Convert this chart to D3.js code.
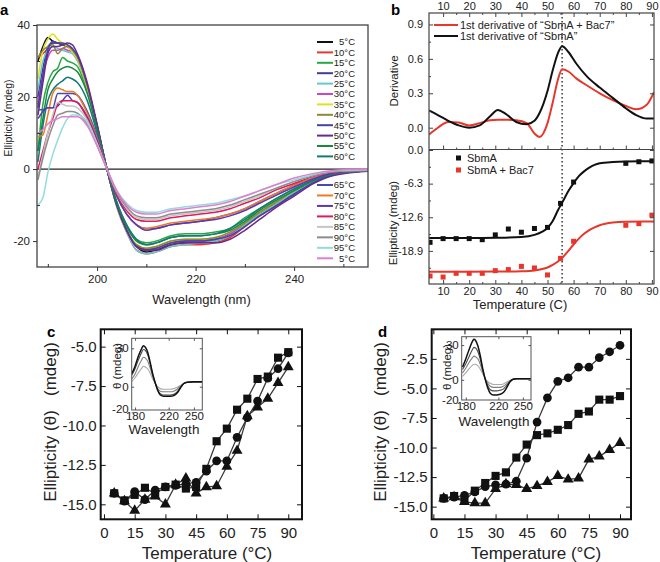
<!DOCTYPE html>
<html><head><meta charset="utf-8">
<script src="https://cdn.jsdelivr.net/npm/d3@7"></script>
<style>body{margin:0;background:#fff}svg{display:block}</style>
</head><body><svg id="fig" width="660" height="562"></svg>
<script>
// ================= DATA =================
// Panel a: CD spectra (mdeg) at these wavelengths (nm)
const wlA = [188,189,190,191,192,193,194,195,196,198,200,202,204,206,208,210,212,215,218,221,224,227,230,233,236,240,244,248,255];
const legendA = ["5°C","10°C","15°C","20°C","25°C","30°C","35°C","40°C","45°C","50°C","55°C","60°C","65°C","70°C","75°C","80°C","85°C","90°C","95°C","5°C"];
const cd05 = [30,34,36.5,35.5,35,34.5,34,33,31,23,12,0,-10,-17,-21.5,-23,-22.5,-21,-20.5,-20.5,-20,-18.5,-15.5,-12.5,-10,-6.5,-3.5,-1.5,-0.5];
const cd10 = [31,32,33.5,35,35,34.5,34,33,31,23,12,0,-10.5,-17.5,-22.5,-23.5,-23,-21.5,-21,-21,-20.5,-19,-16,-13,-10.5,-7,-3.7,-1.6,-0.5];
const cd15 = [5,18,24,27,28,31,30,29.5,28.5,21.5,11.5,0,-9.5,-15.5,-19.5,-20.5,-20,-18.5,-18,-18,-17.5,-16.5,-13.5,-11,-8.5,-5.5,-3,-1.3,-0.4];
const cd20 = [20,28,34,35,35,34.5,34,33,31,23,12,0,-10,-17,-21.5,-22.5,-22,-20.5,-20,-20,-19.5,-18,-15.5,-12.5,-10,-6.5,-3.5,-1.5,-0.5];
const cd25 = [22,30,33,34,33.5,33,32.5,32,30,22.5,11.5,0,-10.5,-17.5,-22.5,-23.5,-23,-21.5,-21,-20.5,-20,-18.5,-15.5,-12.5,-10,-6.5,-3.5,-1.5,-0.5];
const cd30 = [18,26,31,33,33,33.5,33,32.5,30.5,22.5,11.5,0,-10,-17,-21.5,-22.5,-22,-20.5,-20,-20,-19.5,-18,-15,-12,-9.5,-6,-3.2,-1.4,-0.4];
const cd35 = [25,33,36,37.5,36,35,34,32.5,30.5,22.5,12,0,-10,-17,-21,-22,-21.5,-20,-19.5,-19.5,-19,-17.5,-15,-12,-9.5,-6,-3,-1.2,-0.3];
const cd40 = [31,33,34,34.5,32,33.5,34,33,31,23,12,0,-10,-17,-21,-22,-21.5,-20,-19.5,-19.5,-19,-17.5,-15,-12,-9.5,-6,-3.2,-1.4,-0.4];
const cd45 = [17,26,33,35.5,35,35,34.5,33.5,31.5,23.5,12,0,-10,-17,-21.5,-22.5,-22,-20.5,-20,-20,-19.5,-18.5,-16,-13,-10.5,-7,-3.7,-1.6,-0.5];
const cd50 = [15,24,32,34,34,34.5,35,34.5,32,24,12.5,0,-10,-17,-21.5,-22.5,-22.5,-21,-20.5,-20.5,-20.5,-19.5,-17,-14,-11,-7.5,-4,-1.8,-0.6];
const cd55 = [5,14,22,25,27,28,28.5,28,27,21,11,0,-9.5,-16,-20,-21,-20.5,-19,-18.5,-18.5,-18,-17,-14.5,-11.5,-9,-6,-3.2,-1.4,-0.4];
const cd60 = [2,12,19,22,23.5,24.5,25.5,25,24,19,10,0,-9,-15.5,-19.5,-21,-20.5,-19,-18.5,-18.5,-18,-16.5,-14,-11,-8.5,-5.5,-3,-1.3,-0.4];
const cd65 = [16.5,16.5,17,17,21,21,21,21,20.5,16,9,0,-7.5,-12.5,-15.5,-16.5,-16.5,-15.5,-15,-14.5,-13.5,-12.5,-11,-9,-7,-4.5,-2.5,-1,-0.4];
const cd70 = [9,9.5,15,21,22.5,22,21.5,21.5,20.5,15.5,8.5,0,-7.5,-12.5,-15.5,-16.5,-16,-15,-14.5,-14,-13.5,-12.5,-11,-9,-7,-4.5,-2.5,-1,-0.4];
const cd75 = [14,16,17,17,17.5,19,20.5,19,18.5,14.5,8,0,-7.5,-12.5,-15.5,-17,-16.5,-15.5,-15,-14.5,-14,-13,-11.5,-9.5,-7.5,-5,-2.7,-1.1,-0.4];
const cd80 = [0,5,10,14,18,19,19,19,18.5,14,7.5,0,-7,-11.5,-14,-14.5,-14.5,-13.5,-13,-12.5,-12,-11,-9.5,-8,-6,-4,-2,-0.8,-0.3];
const cd85 = [-2,4,10,15,18.5,18,17.5,17.5,17,13.5,7,0,-6.5,-11,-13.5,-14,-14,-13,-12.5,-12,-11.5,-10.5,-9,-7.5,-5.5,-3.5,-1.8,-0.7,-0.3];
const cd90 = [-3,3,8,12,15,15.5,16,16,15.5,12.5,6.5,0,-6.5,-10.5,-13,-13.5,-13.5,-12.5,-12,-11.5,-11,-10,-8.5,-7,-5.5,-3.5,-1.8,-0.7,-0.3];
const cd95 = [-10,-8,-1,4,8,11.5,14,15,15,13,7,0,-6,-9.5,-11.5,-12,-12,-11,-10.5,-10,-9.5,-8.5,-7.5,-6,-4.5,-3,-1.5,-0.5,-0.2];
const cd05r = [10,11,12.5,13.5,14,14.5,14.5,14.5,14.5,12,6.5,0,-6,-10,-12,-12.5,-12.5,-11.5,-11,-10.5,-10,-9,-7.5,-6,-4.5,-2.5,-1.2,-0.4,0];
const seriesA = [cd05,cd10,cd15,cd20,cd25,cd30,cd35,cd40,cd45,cd50,cd55,cd60,cd65,cd70,cd75,cd80,cd85,cd90,cd95,cd05r];

// Panel b: derivatives and melting data
const tDeriv = [4.6,8,12,16,20,24,28,31,34,38,42,45,47,50,52,54,55.6,58,61,65,70,75,80,84,88,90.8];
const derivSbmA = [0.15,0.11,0.06,0.02,0.0,0.02,0.1,0.155,0.12,0.05,0.03,0.06,0.13,0.32,0.5,0.65,0.71,0.66,0.56,0.45,0.35,0.26,0.17,0.11,0.08,0.08];
const derivBac7 = [-0.06,0.0,0.05,0.045,0.02,0.04,0.065,0.07,0.07,0.065,0.04,-0.05,-0.08,0.04,0.22,0.42,0.51,0.49,0.43,0.37,0.3,0.24,0.19,0.16,0.2,0.31];
const tPts = [5,10,15,20,25,30,35,40,45,50,55,60,80,85,90];
const ptsSbmA = [-17.3,-16.6,-16.6,-16.6,-16.8,-15.9,-14.8,-15.4,-14.7,-14.5,-10.0,-6.0,-2.5,-2.2,-2.05];
const ptsBac7 = [-23.6,-23.8,-23.1,-23.1,-23.1,-22.6,-22.4,-21.8,-22.1,-23.4,-20.3,-17.1,-14.1,-13.8,-12.2];
const tFit = [4.6,10,20,30,40,45,48,50,52,54,56,58,60,62,64,66,68,70,75,80,90.8];
const fitSbmA = [-16.5,-16.5,-16.5,-16.45,-16.3,-15.9,-15.3,-14.6,-13.3,-11.3,-9.5,-7.7,-6.2,-4.9,-4.0,-3.3,-2.8,-2.5,-2.25,-2.15,-2.1];
const fitBac7 = [-22.8,-22.8,-22.8,-22.78,-22.7,-22.55,-22.3,-22.0,-21.5,-20.9,-20.0,-18.9,-17.7,-16.6,-15.7,-15.0,-14.5,-14.1,-13.6,-13.45,-13.4];
const tMid = 55.6;
const legendBTop = ["1st derivative of \u201cSbmA + Bac7\u201d", "1st derivative of \u201cSbmA\u201d"];
const legendBBot = ["SbmA", "SbmA + Bac7"];
const ticksBTopY = [0, 0.3, 0.6, 0.9];
const ticksBBotY = [0, -6.3, -12.6, -18.9];
const labelsBBotY = ["0.0", "-6.3", "-12.6", "-18.9"];
const ticksBX = [10,20,30,40,50,60,70,80,90];

// Panels c, d: melting curves
const tempCD = [5,10,15,20,25,30,35,40,45,50,55,60,65,70,75,80,85,90];
const cSquares = [-14.3,-14.75,-14.4,-13.95,-14.35,-13.9,-13.75,-14.0,-13.9,-12.75,-11.0,-10.2,-9.0,-8.3,-7.05,-6.9,-5.7,-5.35];
const cCircles = [-14.3,-14.8,-14.2,-14.7,-14.1,-13.9,-13.8,-13.7,-13.6,-12.9,-12.25,-12.25,-10.75,-9.5,-8.45,-7.0,-6.4,-5.4];
const cTriangles = [-14.3,-14.8,-15.4,-14.7,-14.5,-15.0,-13.75,-13.35,-14.3,-13.9,-13.85,-12.6,-11.6,-9.4,-8.85,-8.3,-7.3,-6.3];
const dSquares = [-14.3,-14.1,-14.5,-13.65,-13.0,-12.4,-12.1,-10.85,-9.75,-8.95,-8.8,-8.5,-8.1,-7.15,-6.95,-5.95,-5.95,-5.65];
const dCircles = [-14.3,-14.2,-14.05,-13.75,-13.3,-13.15,-13.1,-12.85,-10.9,-7.85,-5.8,-4.4,-4.1,-3.2,-3.2,-2.4,-1.9,-1.35];
const dTriangles = [-14.3,-14.2,-14.6,-14.7,-14.7,-13.5,-13.1,-13.15,-13.5,-13.25,-12.9,-12.4,-12.7,-12.6,-11.0,-10.75,-10.2,-9.6];
const ticksCDX = [0,15,30,45,60,75,90];
const ticksCY = [-15,-12.5,-10,-7.5,-5];
const ticksDY = [-15,-12.5,-10,-7.5,-5,-2.5];

// Insets: CD spectra
const wlIn = [176,180,184,188,190,192,195,198,201,204,207,210,214,218,222,226,230,234,238,242,250,260];
const inC1 = [10,16,24,30,32,31,27,19,10,3,-3,-6.5,-7.5,-7.5,-7.5,-7,-5,-1,2.5,3.5,3.8,3.8];
const inC2 = [9,14,21,27,29,28.5,25,18,9.5,3,-2.5,-5.5,-6.5,-6.5,-6.5,-6,-4,-0.5,2.5,3.5,3.8,3.8];
const inC3 = [6,10,16,21,23,22.5,20,14.5,8,2.5,-1.5,-3.5,-4,-4,-4,-3.5,-2,0.5,2.5,3.5,3.8,3.8];
const inC4 = [4,7,11,14.5,16,15.5,14,10.5,6,2.5,0,-1.5,-2,-2,-2,-1.5,-0.5,1,2.5,3.5,3.8,3.8];
const inD1 = [11,18,26,33,35,34,29,20,9,0,-7,-11.5,-13,-13,-12.5,-11,-7,-2,0.5,1,1,1];
const inD2 = [9,14,20,26,28,27.5,24,17,8,0.5,-5,-8.5,-9.5,-9.5,-9,-8,-5,-1.5,0.5,1,1,1];
const inD3 = [6,10,15,19,20.5,20,18,13,6.5,1,-3,-5.5,-6.5,-6.5,-6.5,-5.5,-3.5,-1,0.5,1,1,1];
const inD4 = [3,6,9.5,12.5,13.5,13.5,12,9,5,1,-1.5,-3,-4,-4,-4,-3.5,-2,-0.5,0.5,1,1,1];
const ticksInX = [180,220,250];
const ticksInY = [-20,0,30];

// ================= STYLE =================
const FONT = '"Liberation Sans", Arial, Helvetica, sans-serif';
const colorsA = ["#111111","#e8372e","#27a844","#3d3d9e","#66c9c9","#cc44c8","#e0e020","#8a8a38","#4444a4","#6a2a8c","#168a3c","#147a78",
                 "#4a4aac","#f07a22","#5a38b8","#e01860","#c4c4c4","#8c8c8c","#94dcdc","#e07ed0"];
const RED = "#e8362c";
const svg = d3.select("#fig").attr("font-family", FONT);
const fmtB = v => d3.format(".1f")(v).replace("\u2212", "-");

function styleAxis(g, fs, color) {
  g.attr("font-family", FONT).attr("font-size", fs);
  g.select(".domain").remove();
  g.selectAll("line").attr("stroke", color || "#333");
  g.selectAll("text").attr("fill", "#222");
  return g;
}
function minorAxis(parent, axisFn, scale, vals, size, transform, color) {
  const g = parent.append("g").attr("transform", transform)
    .call(axisFn(scale).tickValues(vals).tickSize(size).tickFormat(""));
  styleAxis(g, 10, color);
  return g;
}

// ================= PANEL A =================
(function () {
  const L = 37, R = 368, T = 25, B = 267;
  const x = d3.scaleLinear().domain([187.8, 255]).range([L, R]);
  const y = d3.scaleLinear().domain([-27.2, 40]).range([B, T]);
  const g = svg.append("g");
  g.append("clipPath").attr("id", "clipA").append("rect").attr("x", L).attr("y", T).attr("width", R - L).attr("height", B - T);
  g.append("line").attr("x1", L).attr("x2", R).attr("y1", y(0)).attr("y2", y(0)).attr("stroke", "#222").attr("stroke-width", 1.2);
  const line = d3.line().x((d, i) => x(wlA[i])).y(d => y(d)).curve(d3.curveMonotoneX);
  seriesA.forEach((s, k) => {
    g.append("path").attr("d", line(s)).attr("fill", "none").attr("stroke", colorsA[k])
      .attr("stroke-width", 1.5).attr("clip-path", "url(#clipA)");
  });
  g.append("rect").attr("x", L).attr("y", T).attr("width", R - L).attr("height", B - T)
    .attr("fill", "none").attr("stroke", "#444").attr("stroke-width", 1.3);
  styleAxis(g.append("g").attr("transform", `translate(0,${B})`)
    .call(d3.axisBottom(x).tickValues([200, 220, 240]).tickSize(4).tickPadding(4).tickFormat(d3.format("d"))), 11.5);
  minorAxis(g, d3.axisBottom, x, [190, 210, 230, 250], -3, `translate(0,${B})`);
  styleAxis(g.append("g").attr("transform", `translate(${L},0)`)
    .call(d3.axisLeft(y).tickValues([-20, 0, 20, 40]).tickSize(4).tickPadding(3).tickFormat(v => String(v))), 11.5);
  minorAxis(g, d3.axisLeft, y, [-10, 10, 30], -3, `translate(${L},0)`);
  legendA.forEach((lab, i) => {
    const ly = i < 12 ? 42 + i * 10.4 : 185 + (i - 12) * 10.47;
    g.append("line").attr("x1", 317).attr("x2", 333).attr("y1", ly).attr("y2", ly).attr("stroke", colorsA[i]).attr("stroke-width", 2);
    g.append("text").attr("x", 355).attr("y", ly).attr("dy", "0.35em").attr("text-anchor", "end")
      .attr("font-size", 9.5).attr("fill", "#222").text(lab);
  });
  g.append("text").attr("x", (L + R) / 2 - 1).attr("y", 304).attr("text-anchor", "middle").attr("font-size", 13).attr("fill", "#222").text("Wavelength (nm)");
  g.append("text").attr("transform", "translate(12,118) rotate(-90)").attr("text-anchor", "middle").attr("font-size", 10.5).attr("fill", "#222").text("Ellipticity (mdeg)");
  g.append("text").attr("x", 0).attr("y", 15).attr("font-size", 15).attr("font-weight", "bold").text("a");
})();

// ================= PANEL B =================
let bLabels = null;
(function () {
  const L = 429, R = 654, T = 13, M = 149.5, B = 284;
  const x = d3.scaleLinear().domain([4.6, 90.8]).range([L, R]);
  const yT = d3.scaleLinear().domain([-0.19, 1.0]).range([M, T]);
  const yB = d3.scaleLinear().domain([-25.1, 0]).range([B, M + 0.5]);
  const g = svg.append("g");
  g.append("clipPath").attr("id", "clipBT").append("rect").attr("x", L).attr("y", T).attr("width", R - L).attr("height", M - T);
  g.append("clipPath").attr("id", "clipBB").append("rect").attr("x", L).attr("y", M).attr("width", R - L).attr("height", B - M);
  g.append("line").attr("x1", x(tMid)).attr("x2", x(tMid)).attr("y1", T).attr("y2", B)
    .attr("stroke", "#444").attr("stroke-width", 1.6).attr("stroke-dasharray", "1.6,2.4");
  const lineT = d3.line().x((d, i) => x(tDeriv[i])).y(d => yT(d)).curve(d3.curveMonotoneX);
  g.append("path").attr("d", lineT(derivBac7)).attr("fill", "none").attr("stroke", RED).attr("stroke-width", 2).attr("clip-path", "url(#clipBT)");
  g.append("path").attr("d", lineT(derivSbmA)).attr("fill", "none").attr("stroke", "#111").attr("stroke-width", 2).attr("clip-path", "url(#clipBT)");
  const lineB = d3.line().x((d, i) => x(tFit[i])).y(d => yB(d)).curve(d3.curveMonotoneX);
  g.append("path").attr("d", lineB(fitSbmA)).attr("fill", "none").attr("stroke", "#111").attr("stroke-width", 2).attr("clip-path", "url(#clipBB)");
  g.append("path").attr("d", lineB(fitBac7)).attr("fill", "none").attr("stroke", RED).attr("stroke-width", 2).attr("clip-path", "url(#clipBB)");
  const sq = 5;
  g.append("g").selectAll("rect").data(ptsSbmA).join("rect").attr("x", (d, i) => x(tPts[i]) - sq / 2).attr("y", d => yB(d) - sq / 2)
    .attr("width", sq).attr("height", sq).attr("fill", "#111").attr("clip-path", "url(#clipBB)");
  g.append("g").selectAll("rect").data(ptsBac7).join("rect").attr("x", (d, i) => x(tPts[i]) - sq / 2).attr("y", d => yB(d) - sq / 2)
    .attr("width", sq).attr("height", sq).attr("fill", RED).attr("clip-path", "url(#clipBB)");
  g.append("rect").attr("x", L).attr("y", T).attr("width", R - L).attr("height", B - T).attr("fill", "none").attr("stroke", "#444").attr("stroke-width", 1.2);
  g.append("line").attr("x1", L).attr("x2", R).attr("y1", M).attr("y2", M).attr("stroke", "#444").attr("stroke-width", 1.2);
  const fs = 11;
  styleAxis(g.append("g").attr("transform", `translate(0,${T})`).call(d3.axisTop(x).tickValues(ticksBX).tickSize(-4).tickPadding(3).tickFormat(d3.format("d"))), fs, "#444");
  minorAxis(g, d3.axisTop, x, [15,25,35,45,55,65,75,85], -2, `translate(0,${T})`, "#444");
  styleAxis(g.append("g").attr("transform", `translate(0,${B})`).call(d3.axisBottom(x).tickValues(ticksBX).tickSize(-4).tickPadding(3).tickFormat(d3.format("d"))), fs, "#444");
  minorAxis(g, d3.axisBottom, x, [15,25,35,45,55,65,75,85], -2, `translate(0,${B})`, "#444");
  minorAxis(g, d3.axisBottom, x, ticksBX, -4, `translate(0,${M})`, "#444");
  minorAxis(g, d3.axisBottom, x, [15,25,35,45,55,65,75,85], -2, `translate(0,${M})`, "#444");
  minorAxis(g, d3.axisLeft, yT, ticksBTopY, -4, `translate(${L},0)`, "#444");
  minorAxis(g, d3.axisLeft, yT, [0.15, 0.45, 0.75], -2, `translate(${L},0)`, "#444");
  minorAxis(g, d3.axisRight, yT, ticksBTopY, -4, `translate(${R},0)`, "#444");
  minorAxis(g, d3.axisLeft, yB, ticksBBotY, -4, `translate(${L},0)`, "#444");
  minorAxis(g, d3.axisLeft, yB, [-3.15, -9.45, -15.75, -22.05], -2, `translate(${L},0)`, "#444");
  minorAxis(g, d3.axisRight, yB, ticksBBotY, -4, `translate(${R},0)`, "#444");
  [RED, "#111"].forEach((c, i) => {
    const ly = 25 + i * 11;
    g.append("line").attr("x1", 434).attr("x2", 458).attr("y1", ly).attr("y2", ly).attr("stroke", c).attr("stroke-width", 2);
    g.append("text").attr("x", 460).attr("y", ly).attr("dy", "0.35em").attr("font-size", 11).attr("fill", "#222").text(legendBTop[i]);
  });
  ["#111", RED].forEach((c, i) => {
    const ly = 158 + i * 12;
    g.append("rect").attr("x", 456).attr("y", ly - 2.5).attr("width", 5).attr("height", 5).attr("fill", c);
    g.append("text").attr("x", 467).attr("y", ly).attr("dy", "0.35em").attr("font-size", 11).attr("fill", "#222").text(legendBBot[i]);
  });
  g.append("text").attr("x", 520).attr("y", 309).attr("text-anchor", "middle").attr("font-size", 13).attr("fill", "#222").text("Temperature (C)");
  g.append("text").attr("transform", "translate(398,81) rotate(-90)").attr("text-anchor", "middle").attr("font-size", 11.5).attr("fill", "#222").text("Derivative");
  g.append("text").attr("transform", "translate(397,223) rotate(-90)").attr("text-anchor", "middle").attr("font-size", 11.5).attr("fill", "#222").text("Ellipticity (mdeg)");
  g.append("text").attr("x", 391).attr("y", 15).attr("font-size", 15).attr("font-weight", "bold").text("b");
  bLabels = () => {
    const lab = svg.append("g").attr("font-family", FONT).attr("font-size", fs).attr("fill", "#1a1a1a").attr("text-anchor", "end");
    ticksBTopY.forEach(v => lab.append("text").attr("x", L - 6).attr("y", yT(v) + 3.8).text(fmtB(v)));
    ticksBBotY.forEach((v, i) => lab.append("text").attr("x", L - 6).attr("y", yB(v) + 3.8).text(labelsBBotY[i]));
  };
})();

// ================= PANELS C & D =================
function meltPanel(opt) {
  const { L, R, T, B, xDom, yDom, yTicks, sq, ci, tr, inset, inSeries, label, labelX, titleX, titleYX } = opt;
  const x = d3.scaleLinear().domain(xDom).range([L, R]);
  const y = d3.scaleLinear().domain(yDom).range([B, T]);
  const g = svg.append("g");
  const line = d3.line().x((d, i) => x(tempCD[i])).y(d => y(d));
  [sq, ci, tr].forEach(s => g.append("path").attr("d", line(s)).attr("fill", "none").attr("stroke", "#3a3a3a").attr("stroke-width", 1.3));
  const shapes = [[sq, d3.symbolSquare, 66], [ci, d3.symbolCircle, 60], [tr, d3.symbolTriangle, 52]];
  shapes.forEach(([s, sym, size]) => {
    g.append("g").selectAll("path").data(s).join("path")
      .attr("transform", (d, i) => `translate(${x(tempCD[i])},${y(d)})`)
      .attr("d", d3.symbol(sym, size)()).attr("fill", "#111");
  });
  g.append("rect").attr("x", L).attr("y", T).attr("width", R - L).attr("height", B - T).attr("fill", "none").attr("stroke", "#111").attr("stroke-width", 2);
  styleAxis(g.append("g").attr("transform", `translate(0,${B})`).call(d3.axisBottom(x).tickValues(ticksCDX).tickSize(-5).tickPadding(8).tickFormat(d3.format("d"))), 15, "#111");
  minorAxis(g, d3.axisTop, x, ticksCDX, -5, `translate(0,${T})`, "#111");
  styleAxis(g.append("g").attr("transform", `translate(${L},0)`).call(d3.axisLeft(y).tickValues(yTicks).tickSize(-5).tickPadding(4).tickFormat(fmtB)), 15, "#111");
  minorAxis(g, d3.axisRight, y, yTicks, -5, `translate(${R},0)`, "#111");
  const ix = d3.scaleLinear().domain(inset.xDom).range([inset.L, inset.R]);
  const iy = d3.scaleLinear().domain(inset.yDom).range(inset.yRange);
  const cid = "clip" + label;
  g.append("clipPath").attr("id", cid).append("rect").attr("x", inset.L).attr("y", inset.T).attr("width", inset.R - inset.L).attr("height", inset.B - inset.T);
  g.append("rect").attr("x", inset.L).attr("y", inset.T).attr("width", inset.R - inset.L).attr("height", inset.B - inset.T).attr("fill", "#fff");
  const iline = d3.line().x((d, i) => ix(wlIn[i])).y(d => iy(d)).curve(d3.curveMonotoneX);
  const greys = ["#aaaaaa", "#808080", "#4a4a4a", "#111111"];
  inSeries.slice().reverse().forEach((s, k) => g.append("path").attr("d", iline(s)).attr("fill", "none")
    .attr("stroke", greys[k]).attr("stroke-width", k === 3 ? 1.5 : 1.1).attr("clip-path", `url(#${cid})`));
  g.append("rect").attr("x", inset.L).attr("y", inset.T).attr("width", inset.R - inset.L).attr("height", inset.B - inset.T)
    .attr("fill", "none").attr("stroke", "#555").attr("stroke-width", 1);
  styleAxis(g.append("g").attr("transform", `translate(0,${inset.B})`).call(d3.axisBottom(ix).tickValues(ticksInX).tickSize(-2.5).tickPadding(1.5).tickFormat(d3.format("d"))), 11.5, "#555");
  minorAxis(g, d3.axisTop, ix, ticksInX, -2.5, `translate(0,${inset.T})`, "#555");
  const ya = g.append("g").attr("transform", `translate(${inset.L},0)`).call(d3.axisLeft(iy).tickValues(ticksInY).tickSize(-2.5).tickPadding(3).tickFormat(v => String(v)));
  styleAxis(ya, 11.5, "#555");
  ya.selectAll(".tick text").filter(d => d === -20).attr("dy", "0.05em");
  minorAxis(g, d3.axisRight, iy, ticksInY, -2.5, `translate(${inset.R},0)`, "#555");
  g.append("text").attr("x", inset.wx).attr("y", inset.wy).attr("text-anchor", "middle").attr("font-size", 13.5).attr("fill", "#222").text("Wavelength");
  g.append("text").attr("transform", `translate(${inset.tx},${inset.ty}) rotate(-90)`).attr("text-anchor", "middle").attr("font-size", 11.5).attr("fill", "#222").text("\u03b8 (mdeg)");
  g.append("text").attr("x", titleX).attr("y", 559).attr("text-anchor", "middle").attr("font-size", 17).attr("fill", "#222").text("Temperature (\u00b0C)");
  g.append("text").attr("transform", `translate(${titleYX},422) rotate(-90)`).attr("text-anchor", "middle").attr("font-size", 17).attr("fill", "#222")
    .attr("xml:space", "preserve").style("white-space", "pre").text("Ellipticity (\u03b8)   (mdeg)");
  g.append("text").attr("x", labelX).attr("y", 337).attr("font-size", 15).attr("font-weight", "bold").text(label);
}

meltPanel({ L: 100.7, R: 302, T: 329.3, B: 519.3, xDom: [-1.6, 96.7], yDom: [-15.95, -3.9], yTicks: ticksCY,
  sq: cSquares, ci: cCircles, tr: cTriangles, label: "c", labelX: 47, titleX: 207, titleYX: 56,
  inSeries: [inC1, inC2, inC3, inC4],
  inset: { L: 131.7, R: 202.3, T: 338.3, B: 410, xDom: [176, 260], yDom: [-20, 37.8], yRange: [412.3, 338.3], wx: 164, wy: 434, tx: 121, ty: 366 } });
meltPanel({ L: 431.7, R: 631, T: 329.3, B: 519.3, xDom: [-0.8, 95.3], yDom: [-16.07, 0], yTicks: ticksDY,
  sq: dSquares, ci: dCircles, tr: dTriangles, label: "d", labelX: 378, titleX: 536, titleYX: 386,
  inSeries: [inD1, inD2, inD3, inD4],
  inset: { L: 461.7, R: 531, T: 336.7, B: 400, xDom: [175, 260], yDom: [-20, 37], yRange: [403, 337], wx: 494, wy: 426, tx: 451, ty: 367 } });

bLabels();
</script></body></html>
